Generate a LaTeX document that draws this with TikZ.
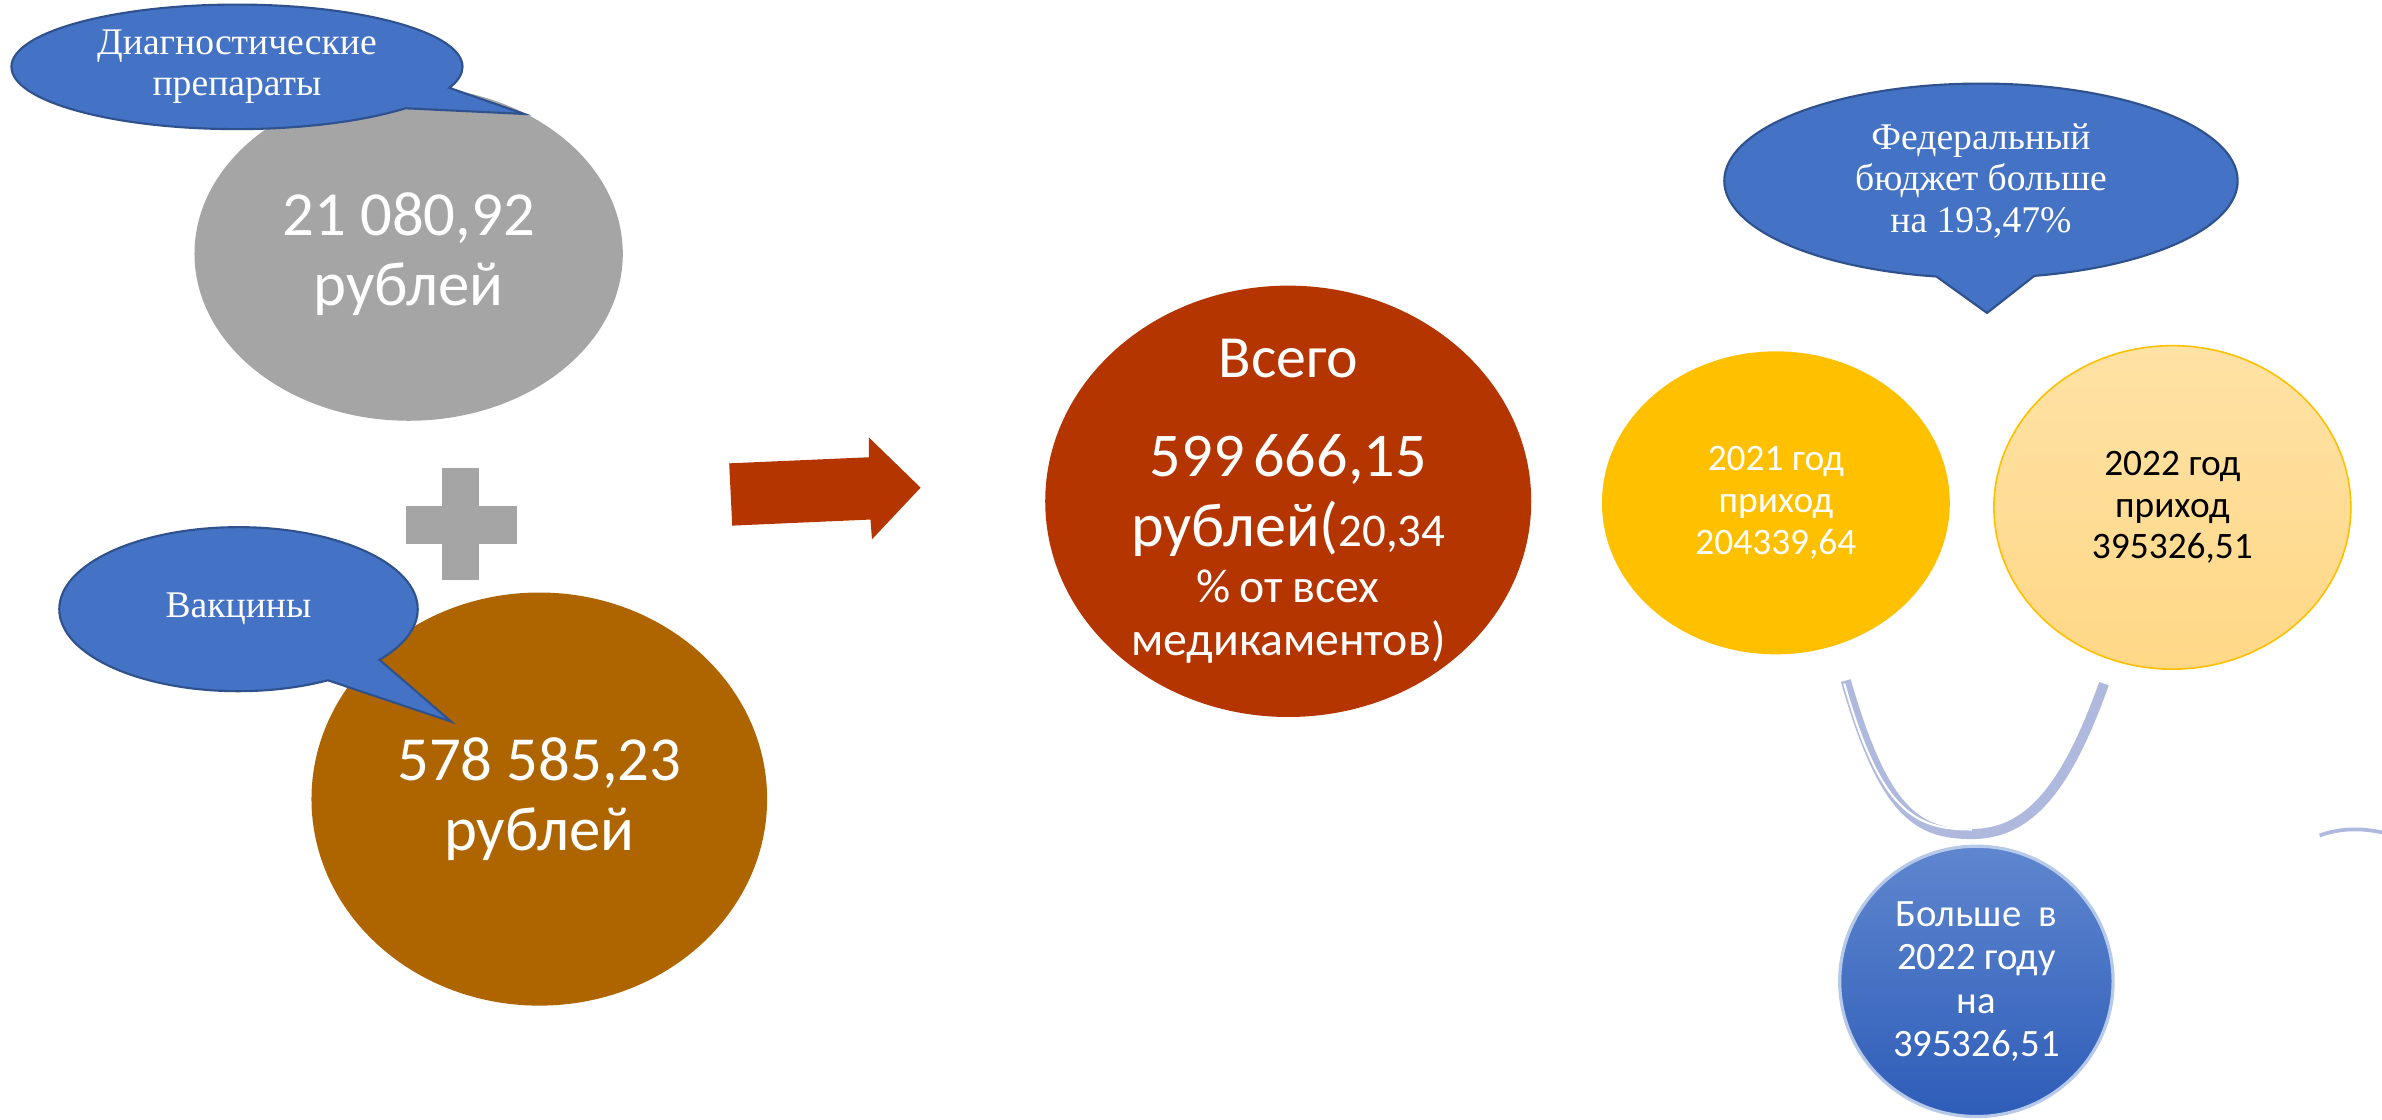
\documentclass[tikz,border=0pt]{standalone}
\usepackage{fontspec}
\setmainfont{Liberation Serif}
\newfontfamily\calib{Carlito}
\usetikzlibrary{shapes.geometric,shapes.callouts}
\definecolor{bubbleblue}{HTML}{4472C4}
\definecolor{bubbleedge}{HTML}{2F528F}
\definecolor{diaggray}{HTML}{A5A5A5}
\definecolor{vaccbrown}{HTML}{AE6500}
\definecolor{totalred}{HTML}{B43500}
\definecolor{gold}{HTML}{FFC000}
\definecolor{lightgold}{HTML}{FFD887}
\definecolor{medaltop}{HTML}{5F86CF}
\definecolor{medalbot}{HTML}{2E5DB8}
\definecolor{ropeblue}{HTML}{AEB9DD}

\tikzset{
  blob/.style={ellipse, inner sep=0pt, align=center, text=white},
  bubble/.style={ellipse callout, fill=bubbleblue, draw=bubbleedge, line width=0.8pt,
    text=white, align=center, inner sep=0pt, callout pointer arc=22,
    font=\fontsize{14.1}{15.6}\selectfont},
  bigsum/.style={font=\calib\fontsize{23.5}{26.2}\selectfont},
  yearsum/.style={font=\calib\fontsize{14}{15.6}\selectfont}
}

\begin{document}
\begin{tikzpicture}[x=0.02cm,y=-0.02cm]
  \path[fill=white] (0,0) rectangle (1568,737);
  \useasboundingbox (0,0) rectangle (1568,737);

  \node[blob, fill=diaggray, minimum width=5.64cm, minimum height=4.4cm, bigsum] (diag) at (269,167) {21 080,92\\рублей};
  \node[bubble, minimum width=5.94cm, minimum height=1.64cm, callout absolute pointer={(345,75)}] (diagbub) at (156,44) {Диагностические\\препараты};

  \fill[diaggray] (291,308) rectangle (315,382);
  \fill[diaggray] (267,333) rectangle (340,358);

  \node[blob, fill=vaccbrown, minimum width=6cm, minimum height=5.44cm, bigsum] (vacc) at (355,526) {578 585,23\\рублей};
  \node[bubble, minimum width=4.72cm, minimum height=2.16cm, callout absolute pointer={(297,475)}] (vaccbub) at (157,401) {Вакцины};

  \fill[totalred] (480,305) -- (572,301) -- (572,288) -- (606,321) -- (574,355) -- (573,342) -- (482,346) -- cycle;

  \node[blob, fill=totalred, minimum width=6.4cm, minimum height=5.68cm] (total) at (848,330) {};
  \node[text=white, align=center, text width=6cm, inner sep=0pt] (totaltxt) at (total.center) {%
    \calib\fontsize{22.4}{26}\selectfont Всего\par
    \fontsize{23.3}{37}\selectfont 599 666,15\par
    \fontsize{23.3}{26.2}\selectfont рублей({\fontsize{17.6}{20}\selectfont 20,34}\par
    \fontsize{17.9}{21}\selectfont \% от всех\par
    \fontsize{17.9}{20}\selectfont медикаментов)\par};

  \node[bubble, minimum width=6.76cm, minimum height=2.56cm, callout absolute pointer={(1308,206)}] (fedbub) at (1304,119) {Федеральный\\бюджет больше\\на 193,47\%};

  \node[blob, fill=gold, minimum width=4.58cm, minimum height=3.99cm, yearsum] (y2021) at (1169,331) {2021 год\\приход\\204339,64};
  \node[blob, top color=lightgold!75!white, bottom color=lightgold, draw=gold, line width=0.6pt, text=black,
    minimum width=4.7cm, minimum height=4.26cm, yearsum] (y2022) at (1430,334) {2022 год\\приход\\395326,51};

  \coordinate (ropeL) at (1215,448);
  \coordinate (ropeR) at (1385,450);
  \draw[ropeblue, line width=3.8pt] (ropeL) .. controls (1240,535) and (1262,549) .. (1298,549) .. controls (1335,549) and (1360,520) .. (ropeR);
  \draw[white, line width=0.8pt] (1214,450) .. controls (1238,535) and (1261,546) .. (1298,546);

  \node[blob, top color=medaltop, bottom color=medalbot, draw=medaltop!45!white, line width=1.2pt,
    minimum width=3.6cm, minimum height=3.56cm, font=\calib\fontsize{14.5}{16.3}\selectfont] (medal) at (1301,646) {Больше\ \ в\\2022 году\\на\\395326,51};

  \draw[ropeblue, line width=1.4pt] (1527,550) .. controls (1540,545) and (1555,545) .. (1568,548);
\end{tikzpicture}
\end{document}
